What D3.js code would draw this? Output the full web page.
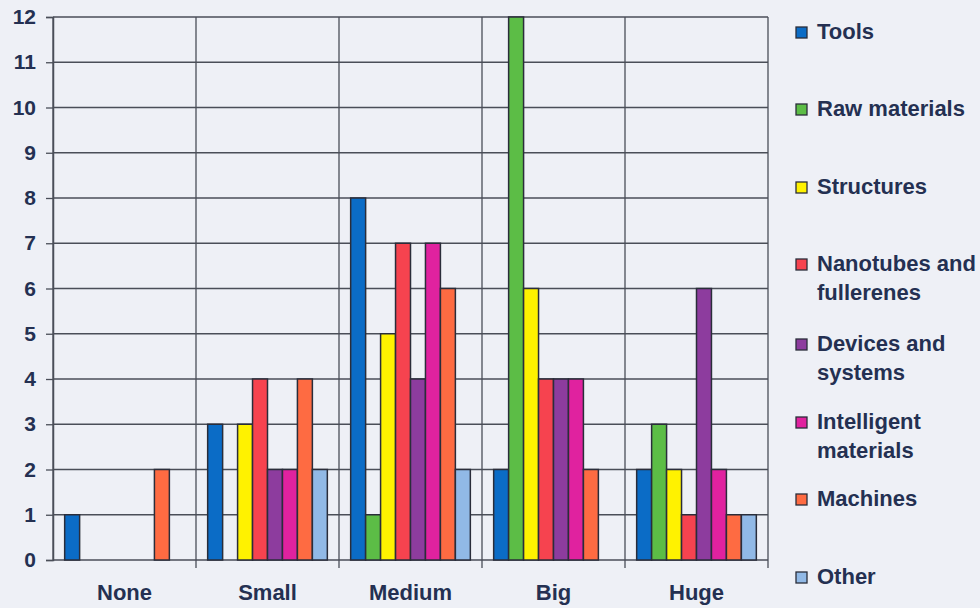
<!DOCTYPE html>
<html>
<head>
<meta charset="utf-8">
<script src="https://cdn.jsdelivr.net/npm/d3@7"></script>
<style>
  html, body { margin: 0; padding: 0; background: #eef0f6; }
  svg { display: block; }
  text { font-family: Arial, "Liberation Sans", sans-serif; fill: #243052; font-weight: bold; }
</style>
</head>
<body>
<svg id="chart" width="980" height="608"></svg>
<script>
// Project counts by size class
const categories = ["None", "Small", "Medium", "Big", "Huge"];
const seriesNames = ["Tools", "Raw materials", "Structures", "Nanotubes and fullerenes",
  "Devices and systems", "Intelligent materials", "Machines", "Other"];
const legendLines = [["Tools"], ["Raw materials"], ["Structures"], ["Nanotubes and", "fullerenes"],
  ["Devices and", "systems"], ["Intelligent", "materials"], ["Machines"], ["Other"]];
const tools = [1, 3, 8, 2, 2];
const rawMaterials = [0, 0, 1, 12, 3];
const structures = [0, 3, 5, 6, 2];
const nanotubes = [0, 4, 7, 4, 1];
const devices = [0, 2, 4, 4, 6];
const intelligent = [0, 2, 7, 4, 2];
const machines = [2, 4, 6, 2, 1];
const other = [0, 2, 2, 0, 1];
const yTicks = [0, 1, 2, 3, 4, 5, 6, 7, 8, 9, 10, 11, 12];
const colors = ["#0b6cc6", "#5cbd46", "#fff200", "#f6434f", "#8d3c9e", "#e0229f", "#fe6b42", "#91b9e6"];

const seriesValues = [tools, rawMaterials, structures, nanotubes, devices, intelligent, machines, other];

const svg = d3.select("#chart");
const plot = { left: 53, right: 768, top: 17, bottom: 560 };
const tickFont = 21;
const labelFont = 22;

const x0 = d3.scaleBand().domain(categories).range([plot.left, plot.right]);
const x1 = d3.scaleBand().domain(seriesNames).range([0, x0.bandwidth()])
  .paddingOuter(0.78).paddingInner(0);
const y = d3.scaleLinear().domain([0, 12]).range([plot.bottom, plot.top]);

const grid = "#4a4e58";

// horizontal gridlines
svg.append("g").selectAll("line").data(yTicks).join("line")
  .attr("x1", plot.left).attr("x2", plot.right)
  .attr("y1", d => y(d)).attr("y2", d => y(d))
  .attr("stroke", grid).attr("stroke-width", 1.3);

// category separators, extended below the axis as tick marks
const seps = categories.map(c => x0(c)).concat([plot.right]);
svg.append("g").selectAll("line").data(seps).join("line")
  .attr("x1", d => d).attr("x2", d => d)
  .attr("y1", plot.top).attr("y2", (d, i) => i === 0 ? plot.bottom : plot.bottom + 8)
  .attr("stroke", grid).attr("stroke-width", 1.3);

// y axis with outward ticks
const yAxis = svg.append("g").attr("transform", `translate(${plot.left},0)`)
  .call(d3.axisLeft(y).tickValues(yTicks).tickSize(7).tickPadding(10));
yAxis.select(".domain").attr("stroke", grid).attr("stroke-width", 1.5);
yAxis.selectAll(".tick line").attr("stroke", grid).attr("stroke-width", 1.3);
yAxis.selectAll(".tick text").attr("font-size", tickFont).attr("fill", "#243052")
  .attr("font-family", "Arial, 'Liberation Sans', sans-serif").attr("font-weight", "bold");

// x axis category labels
svg.append("g").selectAll("text").data(categories).join("text")
  .attr("x", d => x0(d) + x0.bandwidth() / 2)
  .attr("y", 600)
  .attr("text-anchor", "middle")
  .attr("font-size", labelFont)
  .text(d => d);

// bars
const groups = svg.append("g").selectAll("g").data(categories).join("g")
  .attr("transform", d => `translate(${x0(d)},0)`);
groups.selectAll("rect")
  .data((c, ci) => seriesNames.map((s, si) => ({ s, si, v: seriesValues[si][ci] })).filter(d => d.v > 0))
  .join("rect")
  .attr("x", d => x1(d.s))
  .attr("width", x1.bandwidth())
  .attr("y", d => y(d.v))
  .attr("height", d => y(0) - y(d.v))
  .attr("fill", d => colors[d.si])
  .attr("stroke", "#2a2d3a")
  .attr("stroke-width", 1.5);

// legend
const legendY = [32, 109, 187, 264, 344, 422, 499, 577];
const legend = svg.append("g").selectAll("g").data(seriesNames).join("g")
  .attr("transform", (d, i) => `translate(796,${legendY[i]})`);
legend.append("rect")
  .attr("x", 0).attr("y", -5).attr("width", 11).attr("height", 11)
  .attr("fill", (d, i) => colors[i])
  .attr("stroke", "#2a2d3a").attr("stroke-width", 1.3);
legend.append("text")
  .attr("x", 21).attr("y", 7)
  .attr("font-size", labelFont)
  .selectAll("tspan").data((d, i) => legendLines[i]).join("tspan")
  .attr("x", 21).attr("dy", (d, j) => j === 0 ? 0 : 29)
  .text(d => d);
</script>
</body>
</html>
